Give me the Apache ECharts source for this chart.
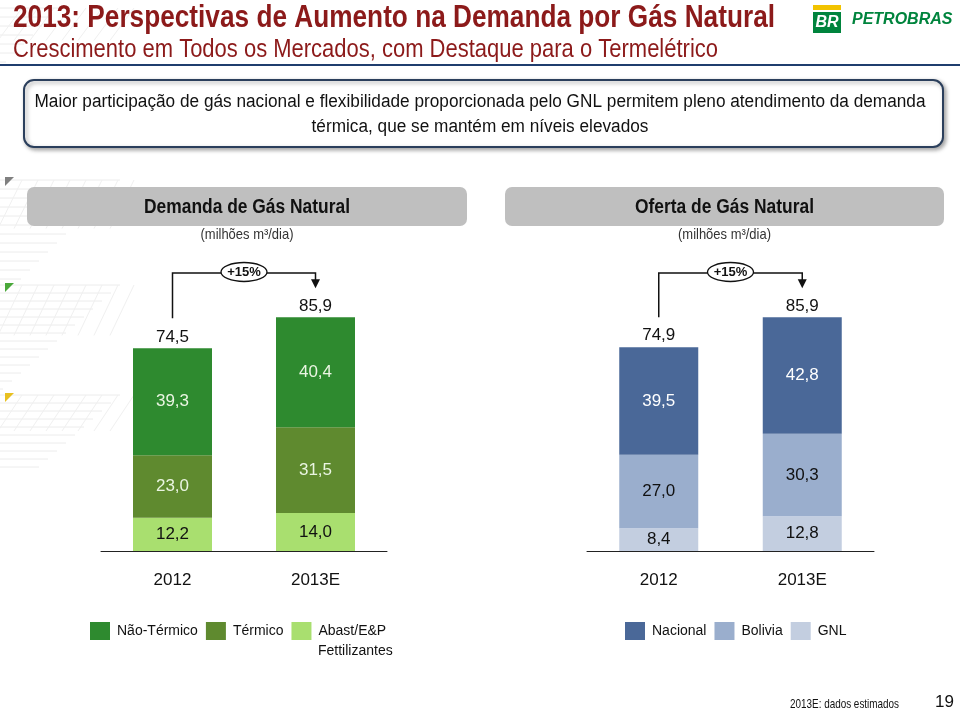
<!DOCTYPE html>
<html>
<head>
<meta charset="utf-8">
<script src="https://cdn.jsdelivr.net/npm/echarts@6/dist/echarts.min.js"></script>
<style>
html,body{margin:0;padding:0;background:#fff;}
#c{width:960px;height:710px;}
</style>
</head>
<body>
<div id="c"></div>
<script>
const categories = ['2012', '2013E'];
// Demanda de Gás Natural (milhões m³/dia)
const demandaNaoTermico = [39.3, 40.4];
const demandaTermico = [23.0, 31.5];
const demandaAbast = [12.2, 14.0];
const demandaTotal = [74.5, 85.9];
// Oferta de Gás Natural (milhões m³/dia)
const ofertaNacional = [39.5, 42.8];
const ofertaBolivia = [27.0, 30.3];
const ofertaGNL = [8.4, 12.8];
const ofertaTotal = [74.9, 85.9];
const growthLabel = '+15%';

const SANS = "'Liberation Sans', Arial, sans-serif";
const fmt = v => v.toFixed(1).replace('.', ',');

const chart = echarts.init(document.getElementById('c'), null, {renderer: 'canvas'});

function barSeries(name, data, color, labelColor, idx, stack) {
  return {
    name: name, type: 'bar', stack: stack, data: data,
    xAxisIndex: idx, yAxisIndex: idx, barWidth: 79,
    itemStyle: {color: color},
    label: {show: true, position: 'inside', color: labelColor, fontFamily: SANS, fontSize: 17,
      formatter: p => fmt(p.value)},
    emphasis: {disabled: true}
  };
}
function totalSeries(data, idx) {
  return {
    type: 'scatter', data: data, xAxisIndex: idx, yAxisIndex: idx,
    symbolSize: 0, silent: true, itemStyle: {opacity: 1},
    label: {show: true, position: 'top', distance: 3, color: '#111', fontFamily: SANS, fontSize: 17,
      formatter: p => fmt(p.value)},
    emphasis: {disabled: true}
  };
}

const axisCommon = {
  type: 'category', data: categories,
  axisLine: {lineStyle: {color: '#222', width: 1}},
  axisTick: {show: false},
  axisLabel: {color: '#111', fontFamily: SANS, fontSize: 17, margin: 21}
};
const yCommon = {type: 'value', min: 0, max: 100, show: false};
const legendCommon = {
  top: 622, itemWidth: 20, itemHeight: 18, itemGap: 8, icon: 'rect', padding: 0,
  selectedMode: false,
  textStyle: {fontFamily: SANS, fontSize: 14, color: '#111', padding: [0, 0, 0, 2]}
};

const option = {
  animation: false,
  backgroundColor: '#fff',
  grid: [
    {left: 101, top: 279, width: 286, height: 272},
    {left: 587, top: 279, width: 287, height: 272}
  ],
  xAxis: [Object.assign({gridIndex: 0}, axisCommon), Object.assign({gridIndex: 1}, axisCommon)],
  yAxis: [Object.assign({gridIndex: 0}, yCommon), Object.assign({gridIndex: 1}, yCommon)],
  legend: [
    Object.assign({left: 90, data: ['Não-Térmico', 'Térmico', 'Abast/E&P Fettilizantes'],
      formatter: n => n === 'Abast/E&P Fettilizantes' ? 'Abast/E&P' : n}, legendCommon),
    Object.assign({left: 625, data: ['Nacional', 'Bolivia', 'GNL']}, legendCommon)
  ],
  series: [
    barSeries('Abast/E&P Fettilizantes', demandaAbast, '#a9df6f', '#111', 0, 'd'),
    barSeries('Térmico', demandaTermico, '#5f8a2f', '#eaf5e2', 0, 'd'),
    barSeries('Não-Térmico', demandaNaoTermico, '#2e8a2f', '#eaf5e2', 0, 'd'),
    totalSeries(demandaTotal, 0),
    barSeries('GNL', ofertaGNL, '#c3cee0', '#111', 1, 'o'),
    barSeries('Bolivia', ofertaBolivia, '#9aaecd', '#111', 1, 'o'),
    barSeries('Nacional', ofertaNacional, '#4a6898', '#ffffff', 1, 'o'),
    totalSeries(ofertaTotal, 1)
  ]
};
chart.setOption(option);

// ---- annotations and slide decoration ----
const measureCtx = document.createElement('canvas').getContext('2d');
function narrow(text, font, targetWidth) {
  measureCtx.font = font;
  return targetWidth / measureCtx.measureText(text).width;
}

const g = [];
function hatch(y0, rows, w, step) {
  for (let i = 0; i < rows; i++) {
    const y = y0 + i * step;
    const len = w - i * 9;
    if (len <= 0) break;
    g.push({type: 'line', shape: {x1: 0, y1: y, x2: len, y2: y}, style: {stroke: '#ececec', lineWidth: 1}, silent: true, z: -1});
  }
  for (let k = 0; k < 8; k++) {
    const x = 10 + k * 16;
    g.push({type: 'line', shape: {x1: x + 12, y1: y0, x2: x - 12, y2: y0 + rows * step * 0.45}, style: {stroke: '#f0f0f0', lineWidth: 1}, silent: true, z: -1});
  }
}
hatch(8, 8, 60, 9);
hatch(180, 12, 120, 9);
hatch(285, 14, 120, 8);
hatch(395, 10, 120, 8);
g.push({type: 'polygon', shape: {points: [[5, 177], [14, 177], [5, 186]]}, style: {fill: '#808080'}});
g.push({type: 'polygon', shape: {points: [[5, 283], [14, 283], [5, 292]]}, style: {fill: '#4aa83a'}});
g.push({type: 'polygon', shape: {points: [[5, 393], [14, 393], [5, 402]]}, style: {fill: '#e8c020'}});

function ntext(txt, x, y, font, width, fill, align) {
  const s = narrow(txt, font, width);
  g.push({type: 'text', x: x, y: y, scaleX: s,
    style: {text: txt, font: font, fill: fill, align: align || 'left', verticalAlign: 'middle'}});
}

// title
ntext('2013: Perspectivas de Aumento na Demanda por Gás Natural', 13, 18, "bold 31px " + SANS, 762, '#8c1a1a');
ntext('Crescimento em Todos os Mercados, com Destaque para o Termelétrico', 13, 50, "26px " + SANS, 705, '#8c1a1a');
g.push({type: 'rect', shape: {x: 0, y: 64, width: 960, height: 2}, style: {fill: '#1f3d6e'}});

// logo
g.push({type: 'rect', shape: {x: 813, y: 5, width: 28, height: 5}, style: {fill: '#f2c300'}});
g.push({type: 'rect', shape: {x: 813, y: 12, width: 28, height: 21}, style: {fill: '#00843d'}});
g.push({type: 'text', x: 827, y: 23, style: {text: 'BR', font: "italic bold 16px " + SANS, fill: '#fff', align: 'center', verticalAlign: 'middle'}});
g.push({type: 'text', x: 852, y: 20, style: {text: 'PETROBRAS', font: "italic bold 16px " + SANS, fill: '#00843d', verticalAlign: 'middle'}});

// message box
g.push({type: 'rect', shape: {x: 24, y: 80, width: 919, height: 67, r: 10},
  style: {fill: '#fff', stroke: '#2b3f5c', lineWidth: 2, shadowBlur: 4, shadowOffsetX: 2, shadowOffsetY: 2, shadowColor: 'rgba(0,0,0,0.35)'}});
const boxLine1 = 'Maior participação de gás nacional e flexibilidade proporcionada pelo GNL permitem pleno atendimento da demanda';
const boxLine2 = 'térmica, que se mantém em níveis elevados';
const boxScale = narrow(boxLine1, "18px " + SANS, 891);
g.push({type: 'text', x: 480, y: 102, scaleX: boxScale, style: {text: boxLine1, font: "18px " + SANS, fill: '#111', align: 'center', verticalAlign: 'middle'}});
g.push({type: 'text', x: 480, y: 127, scaleX: boxScale, style: {text: boxLine2, font: "18px " + SANS, fill: '#111', align: 'center', verticalAlign: 'middle'}});

// panel headers
function panelHeader(x, w, title, tw) {
  g.push({type: 'rect', shape: {x: x, y: 187, width: w, height: 39, r: 7}, style: {fill: '#bfbfbf'}});
  ntext(title, x + w / 2, 207, "bold 20px " + SANS, tw, '#111', 'center');
  ntext('(milhões m³/dia)', x + w / 2, 235, "15px " + SANS, 93, '#333', 'center');
}
panelHeader(27, 440, 'Demanda de Gás Natural', 206);
panelHeader(505, 439, 'Oferta de Gás Natural', 179);

// second line of the third demand legend entry
g.push({type: 'text', x: 318, y: 651, style: {text: 'Fettilizantes', font: "14px " + SANS, fill: '#111', verticalAlign: 'middle'}});

// growth arrows computed from the chart scales
function growthArrow(idx, totals) {
  const p0 = chart.convertToPixel({xAxisIndex: idx, yAxisIndex: idx}, [categories[0], totals[0]]);
  const p1 = chart.convertToPixel({xAxisIndex: idx, yAxisIndex: idx}, [categories[1], totals[1]]);
  const yh = 273;
  const yStart = p0[1] - 30;
  const yEnd = p1[1] - 30;
  g.push({type: 'polyline', shape: {points: [[p0[0], yStart], [p0[0], yh], [p1[0], yh], [p1[0], yEnd - 7]]}, style: {stroke: '#111', lineWidth: 1.5, fill: null}});
  g.push({type: 'polygon', shape: {points: [[p1[0] - 4.5, yEnd - 8], [p1[0] + 4.5, yEnd - 8], [p1[0], yEnd + 1]]}, style: {fill: '#111'}});
  const cx = (p0[0] + p1[0]) / 2;
  g.push({type: 'ellipse', shape: {cx: cx, cy: yh - 1, rx: 23, ry: 9.5}, style: {fill: '#fff', stroke: '#111', lineWidth: 1.3}});
  g.push({type: 'text', x: cx, y: yh - 1, style: {text: growthLabel, font: "bold 13px " + SANS, fill: '#111', align: 'center', verticalAlign: 'middle'}});
}
growthArrow(0, demandaTotal);
growthArrow(1, ofertaTotal);

// footer
ntext('2013E: dados estimados', 790, 704, "13px " + SANS, 109, '#111');
g.push({type: 'text', x: 935, y: 702, style: {text: '19', font: "17px " + SANS, fill: '#111', verticalAlign: 'middle'}});

chart.setOption({graphic: g});
</script>
</body>
</html>
